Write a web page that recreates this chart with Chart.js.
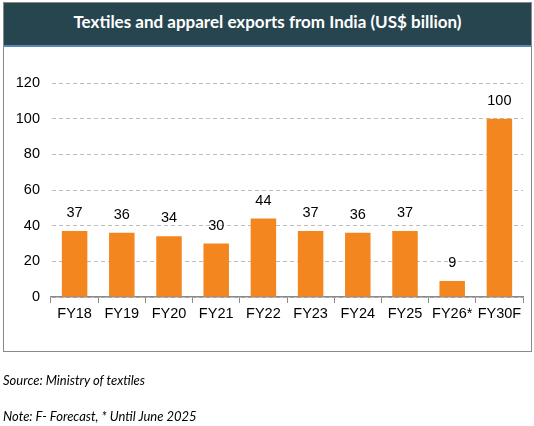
<!DOCTYPE html>
<html>
<head>
<meta charset="utf-8">
<script src="https://cdn.jsdelivr.net/npm/chart.js@4"></script>
<style>
  html, body { margin: 0; padding: 0; background: #fff; }
  #wrap { position: relative; width: 534px; height: 426px; overflow: hidden; }
  #box { position: absolute; left: 3px; top: 2px; width: 527px; height: 348px; border: 1px solid #8a8a8a; box-sizing: content-box; }
  #head { position: absolute; left: 0; top: 0; width: 100%; height: 42px; background: #27454f; border-bottom: 2px solid #5a86b8;
          color: #fff; font: bold 17px Lato, "Open Sans", sans-serif; text-align: center; line-height: 38px; }
  .note { position: absolute; left: 3px; font: italic 13px Lato, "Open Sans", sans-serif; color: #000; }
  #c { position: absolute; left: 0; top: 0; }
</style>
</head>
<body>
<div id="wrap">
  <div id="box"><div id="head">Textiles and apparel exports from India (US$ billion)</div></div>
  <canvas id="c" width="534" height="426"></canvas>
  <div class="note" style="top:372px">Source: Ministry of textiles</div>
  <div class="note" style="top:408px">Note: F- Forecast, * Until June 2025</div>
</div>
<script>
const categories = ["FY18","FY19","FY20","FY21","FY22","FY23","FY24","FY25","FY26*","FY30F"];
const exportsBn = [37, 36, 34, 30, 44, 37, 36, 37, 9, 100];
const yTicks = [0, 20, 40, 60, 80, 100, 120];

const valueLabels = {
  id: 'valueLabels',
  afterDatasetsDraw(chart) {
    const ctx = chart.ctx;
    const meta = chart.getDatasetMeta(0);
    ctx.save();
    ctx.font = '14.5px "Liberation Sans", Arial, sans-serif';
    ctx.fillStyle = '#000';
    ctx.textAlign = 'center';
    ctx.textBaseline = 'middle';
    meta.data.forEach((bar, i) => {
      ctx.fillText(String(chart.data.datasets[0].data[i]), bar.x, bar.y - 18);
    });
    ctx.restore();
  }
};

new Chart(document.getElementById('c'), {
  type: 'bar',
  data: {
    labels: categories,
    datasets: [{
      data: exportsBn,
      backgroundColor: '#F4861F',
      borderWidth: 0,
      categoryPercentage: 1,
      barPercentage: 0.54
    }]
  },
  options: {
    responsive: false,
    animation: false,
    devicePixelRatio: 1,
    layout: { padding: { left: 0, right: 11, top: 83, bottom: 0 } },
    plugins: { legend: { display: false }, tooltip: { enabled: false }, title: { display: false } },
    scales: {
      x: {
        offset: true,
        grid: { display: true, drawOnChartArea: false, drawTicks: true, tickLength: 6, color: '#8a8a8a', offset: true },
        border: { display: true, color: '#8a8a8a', width: 1.5 },
        ticks: { color: '#000', font: { family: '"Liberation Sans", Arial, sans-serif', size: 14.5 }, padding: 2, maxRotation: 0, autoSkip: false },
        afterFit(s) { s.height = 129; }
      },
      y: {
        min: 0, max: 120,
        afterBuildTicks(s) { s.ticks = yTicks.map(v => ({ value: v })); },
        grid: { color: '#bdbdbd', lineWidth: 1, drawTicks: false, borderDash: [4, 3] },
        border: { display: true, color: 'rgba(0,0,0,0)', dash: [4, 3] },
        ticks: { color: '#000', font: { family: '"Liberation Sans", Arial, sans-serif', size: 14.5 }, padding: 11 },
        afterFit(s) { s.width = 51; }
      }
    }
  },
  plugins: [valueLabels]
});
</script>
</body>
</html>
